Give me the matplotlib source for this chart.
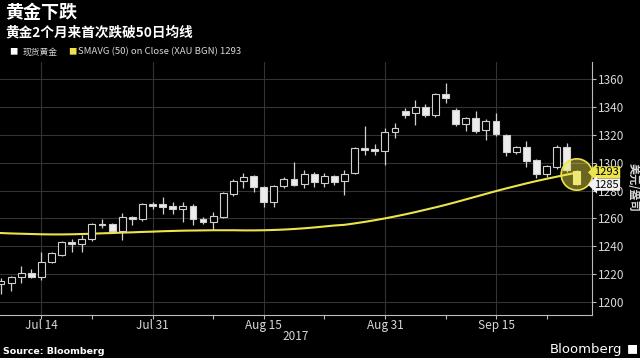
import pandas as pd
import matplotlib.pyplot as plt
import matplotlib.transforms as mtransforms
from matplotlib.patches import Ellipse

plt.rcParams['font.family'] = ['Noto Sans CJK SC', 'DejaVu Sans']

# 数据: 现货黄金日线 (2017-07-10 ~ 2017-09-27)
dates = pd.bdate_range('2017-07-10', '2017-09-27')
opens = [1213, 1214, 1218, 1221, 1218, 1229, 1234, 1243, 1241.6, 1245,
         1256, 1256, 1251, 1261, 1259.6, 1270, 1270, 1269, 1266.7, 1269,
         1259.6, 1257.4, 1261, 1277.5, 1286.8, 1290.4, 1282.5, 1271.8, 1283.2, 1288.3,
         1284.7, 1291.9, 1285.4, 1290.4, 1286.8, 1292.6, 1310.5, 1309.8, 1308.4, 1322,
         1337, 1335.6, 1339.9, 1334.2, 1349.2, 1337.8, 1327.7, 1332, 1323.4, 1329.9,
         1319.8, 1307.6, 1311.2, 1301.9, 1291.9, 1297, 1311.2, 1294]
highs = [1217, 1219, 1226, 1224, 1236, 1236, 1244, 1245, 1248, 1257,
         1259.6, 1257, 1264, 1262, 1271, 1272, 1275.4, 1272, 1272, 1270,
         1261, 1264.6, 1279, 1288, 1292.6, 1291, 1283, 1284, 1289.5, 1300.5,
         1294.7, 1293, 1292.6, 1291, 1294.7, 1311.5, 1326.3, 1313.4, 1324.8, 1328.4,
         1339.2, 1344.9, 1342.1, 1350, 1357.1, 1339.2, 1333, 1337, 1331, 1335.6,
         1320.5, 1312, 1315.5, 1302.5, 1298.5, 1312.5, 1314.1, 1295]
lows = [1206, 1208, 1214, 1217, 1216, 1228, 1233, 1236, 1236, 1244,
        1253, 1250, 1244.5, 1255, 1258, 1266.7, 1263, 1263, 1257.5, 1255,
        1256, 1251.7, 1260, 1276, 1281.8, 1279, 1268, 1268, 1281.5, 1283,
        1281.8, 1282.5, 1282.5, 1284, 1276.8, 1291.5, 1305.5, 1305.5, 1298.3, 1317.7,
        1332, 1327, 1332.7, 1333, 1342.8, 1326, 1322.7, 1321.3, 1316.2, 1319,
        1304.8, 1306.2, 1296.9, 1289, 1289.7, 1295.5, 1293, 1284]
closes = [1215, 1218, 1221, 1218, 1229, 1235, 1243, 1241.6, 1245, 1256,
          1255.5, 1251, 1261, 1259.6, 1270, 1269, 1268.5, 1267, 1268.9, 1259.6,
          1257.4, 1261.7, 1278.2, 1286.8, 1289.7, 1282.5, 1271.8, 1283.2, 1288.3, 1284,
          1291.9, 1286.1, 1290.4, 1286.1, 1291.9, 1310.5, 1309.1, 1308.4, 1322, 1324.8,
          1334.2, 1339.9, 1334.2, 1349.2, 1346.4, 1327.7, 1332, 1322.7, 1329.9, 1320.5,
          1307.6, 1311.2, 1301.2, 1291.9, 1297.6, 1311.2, 1294.7, 1284.7]
ma50 = [1249.5, 1249.2, 1249.0, 1248.8, 1248.6, 1248.5, 1248.5, 1248.6, 1248.8, 1249.0,
        1249.3, 1249.5, 1249.8, 1250.0, 1250.3, 1250.5, 1250.8, 1251.0, 1251.2, 1251.3,
        1251.4, 1251.5, 1251.5, 1251.5, 1251.4, 1251.4, 1251.5, 1251.7, 1252.0, 1252.4,
        1252.9, 1253.5, 1254.2, 1254.9, 1255.4, 1256.4, 1257.5, 1258.7, 1260.0, 1261.4,
        1262.9, 1264.5, 1266.2, 1267.9, 1269.7, 1271.6, 1273.6, 1275.6, 1277.6, 1279.6,
        1281.5, 1283.3, 1285.1, 1286.8, 1288.4, 1289.9, 1291.4, 1292.8]

major_ticks = ['2017-07-14', '2017-07-31', '2017-08-15', '2017-08-31', '2017-09-15']
major_labels = ['Jul 14', 'Jul 31', 'Aug 15', 'Aug 31', 'Sep 15']
minor_ticks = ['2017-07-21', '2017-08-08', '2017-08-23', '2017-09-08', '2017-09-22']
y_ticks = [1200, 1220, 1240, 1260, 1280, 1300, 1320, 1340, 1360]

tag_ma = 1293
tag_last = 1285

BG = 'black'
GRID = '#333333'
TXT = '#d8d8d8'
YEL = '#ece44a'

fig = plt.figure(figsize=(6.4, 3.58), dpi=100, facecolor=BG)
ax = fig.add_axes([0, 43 / 358, 592 / 640, 253 / 358], facecolor=BG)

x = list(range(len(dates)))
pos = {d.strftime('%Y-%m-%d'): i for i, d in enumerate(dates)}

# 均线
ax.plot(x, ma50, color=YEL, lw=1.5, zorder=3)

# K线
w = 0.68
n = len(x)
for i in x:
    o, h, l, c = opens[i], highs[i], lows[i], closes[i]
    last = (i == n - 1)
    up = c >= o
    ec = '#d0d0d0'
    if last:
        fc = '#f3ec98'
        ec = '#f3ec98'
    elif up:
        fc = BG
    else:
        fc = '#ececec'
    ax.vlines(i, l, h, color=ec, lw=0.9, zorder=4)
    bottom = min(o, c)
    height = max(abs(c - o), 0.7)
    ax.bar(i, height, bottom=bottom, width=w, facecolor=fc, edgecolor=ec,
           lw=0.8, zorder=5)

# 高亮圆圈
circ = Ellipse((n - 1, 1291.5), width=3.1, height=22.5, facecolor=YEL,
               alpha=0.45, edgecolor='none', zorder=6)
ax.add_patch(circ)
circ2 = Ellipse((n - 1, 1291.5), width=3.1, height=22.5, facecolor='none',
                edgecolor=YEL, lw=1.2, zorder=6)
ax.add_patch(circ2)

ax.set_xlim(-0.1, 58.5)
ax.set_ylim(1190.7, 1372.2)

ax.set_xticks([pos[d] for d in major_ticks])
ax.set_xticklabels(major_labels)
ax.set_xticks([pos[d] for d in minor_ticks], minor=True)
ax.set_yticks(y_ticks)
ax.yaxis.tick_right()
ax.grid(True, color=GRID, lw=0.8)
ax.tick_params(axis='both', colors='#bbbbbb', labelcolor=TXT, labelsize=8.5,
               length=3, width=0.8)
ax.tick_params(axis='x', which='minor', colors='#bbbbbb', length=3, width=0.8)
ax.tick_params(axis='x', pad=0)
ax.tick_params(axis='y', pad=1)
for s in ['top', 'left']:
    ax.spines[s].set_visible(False)
for s in ['right', 'bottom']:
    ax.spines[s].set_color('#bbbbbb')
    ax.spines[s].set_linewidth(0.8)

# 右侧价格标签
trans = mtransforms.blended_transform_factory(ax.transAxes, ax.transData)
ax.text(1.004, tag_ma, str(tag_ma), transform=trans, fontsize=8, color='black',
        va='center', ha='left', zorder=10, clip_on=False,
        bbox=dict(boxstyle='larrow,pad=0.1', facecolor=YEL, edgecolor='none'))
ax.text(1.004, tag_last - 0.8, str(tag_last), transform=trans, fontsize=8,
        color='black', va='center', ha='left', zorder=10, clip_on=False,
        bbox=dict(boxstyle='larrow,pad=0.1', facecolor='#f2f2f2', edgecolor='none'))

fig.text(633 / 640, 1 - 187 / 358, '美元/盎司', rotation=-90, color=TXT,
         fontsize=8, ha='center', va='center', fontweight='bold')

# 标题
fig.text(5 / 640, 1 - 13 / 358, '黄金下跌', color='white', fontsize=13,
         fontweight='bold', ha='left', va='center')
fig.text(5 / 640, 1 - 32 / 358, '黄金2个月来首次跌破50日均线', color='white',
         fontsize=9.8, fontweight='bold', ha='left', va='center')

# 图例
fig.text(13 / 640, 1 - 52 / 358, '■', color='white', fontsize=6,
         ha='center', va='center')
fig.text(23 / 640, 1 - 52 / 358, '现货黄金', color=TXT, fontsize=6.3,
         ha='left', va='center')
fig.text(72 / 640, 1 - 52 / 358, '■', color=YEL, fontsize=6,
         ha='center', va='center')
fig.text(78 / 640, 1 - 52 / 358, 'SMAVG (50) on Close (XAU BGN) 1293', color=TXT,
         fontsize=6.9, ha='left', va='center')

# 底部
fig.text(296 / 640, 1 - 337 / 358, '2017', color=TXT, fontsize=8.5,
         ha='center', va='center')
fig.text(3 / 640, 1 - 352 / 358, 'Source: Bloomberg', color='white', fontsize=6.8,
         fontweight='bold', ha='left', va='center', family='DejaVu Sans')
fig.text(622 / 640, 1 - 350 / 358, 'Bloomberg', color='white', fontsize=9.5,
         ha='right', va='center', family='DejaVu Sans')
fig.text(632 / 640, 1 - 350 / 358, '■', color='white', fontsize=8,
         ha='center', va='center')

fig.savefig('out.png', dpi=100, facecolor=BG)
